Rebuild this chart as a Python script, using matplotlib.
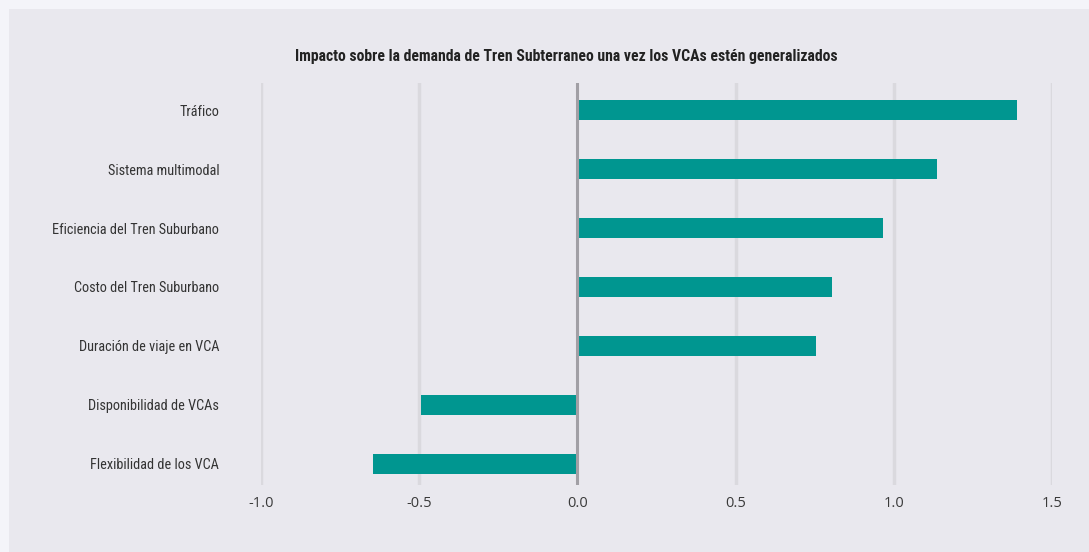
import matplotlib
matplotlib.use("Agg")
import matplotlib.pyplot as plt
from matplotlib.patches import Rectangle
from matplotlib import font_manager

categories = [
    "Tráfico",
    "Sistema multimodal",
    "Eficiencia del Tren Suburbano",
    "Costo del Tren Suburbano",
    "Duración de viaje en VCA",
    "Disponibilidad de VCAs",
    "Flexibilidad de los VCA",
]
impact = [1.39, 1.135, 0.965, 0.805, 0.755, -0.495, -0.645]
xticks = [-1.0, -0.5, 0.0, 0.5, 1.0, 1.5]
xtick_labels = ["-1.0", "-0.5", "0.0", "0.5", "1.0", "1.5"]
title = "Impacto sobre la demanda de Tren Subterraneo una vez los VCAs estén generalizados"

# pick a narrow face if one is installed
available = {f.name for f in font_manager.fontManager.ttflist}
narrow = None
for name in ["Liberation Sans Narrow", "Roboto Condensed", "Open Sans Condensed",
             "DejaVu Sans Condensed", "Noto Sans Condensed"]:
    if name in available:
        narrow = name
        break
label_family = [narrow or "Roboto", "DejaVu Sans"]

W, H = 1089, 552
fig = plt.figure(figsize=(W / 100, H / 100), dpi=100)
fig.patch.set_facecolor("#f4f4f9")

# gray panel behind the chart
panel = Rectangle((9 / W, 0), 1 - 9 / W, 1 - 9 / H, transform=fig.transFigure,
                  facecolor="#e9e8ee", edgecolor="none", zorder=-10)
fig.add_artist(panel)

left, right = 261 / W, 1052 / W
top, bottom = 1 - 83 / H, 1 - 485 / H
ax = fig.add_axes([left, bottom, right - left, top - bottom])
ax.set_facecolor("none")
ax.set_zorder(5)

n = len(categories)
ypos = list(range(n - 1, -1, -1))
ax.barh(ypos, impact, height=0.34, color="#009690", zorder=3)

ax.set_xlim(-1.0, 1.5)
ax.set_ylim(-0.36, n - 1 + 0.46)

for x in xticks:
    if x == 0:
        ax.axvline(x, color="#a19fa5", lw=2.2, zorder=4)
    else:
        ax.axvline(x, color="#dad9de", lw=2.5, zorder=1)

ax.set_xticks(xticks)
ax.set_xticklabels(xtick_labels, fontsize=10.5, color="#3a3a3a", family="Open Sans")
ax.set_yticks(ypos)
ax.set_yticklabels(categories, fontsize=10.3, color="#333333", family=label_family,
                   va="center_baseline")
ax.tick_params(axis="both", length=0)
ax.tick_params(axis="y", pad=30)
ax.tick_params(axis="x", pad=8)
for s in ax.spines.values():
    s.set_visible(False)

fig.text(566 / W, 1 - 56 / H, title, ha="center", va="center", fontsize=11.3,
         fontweight="bold", color="#222222", family=label_family, fontstretch="condensed")

fig.savefig("out.png", dpi=100, facecolor=fig.get_facecolor())
